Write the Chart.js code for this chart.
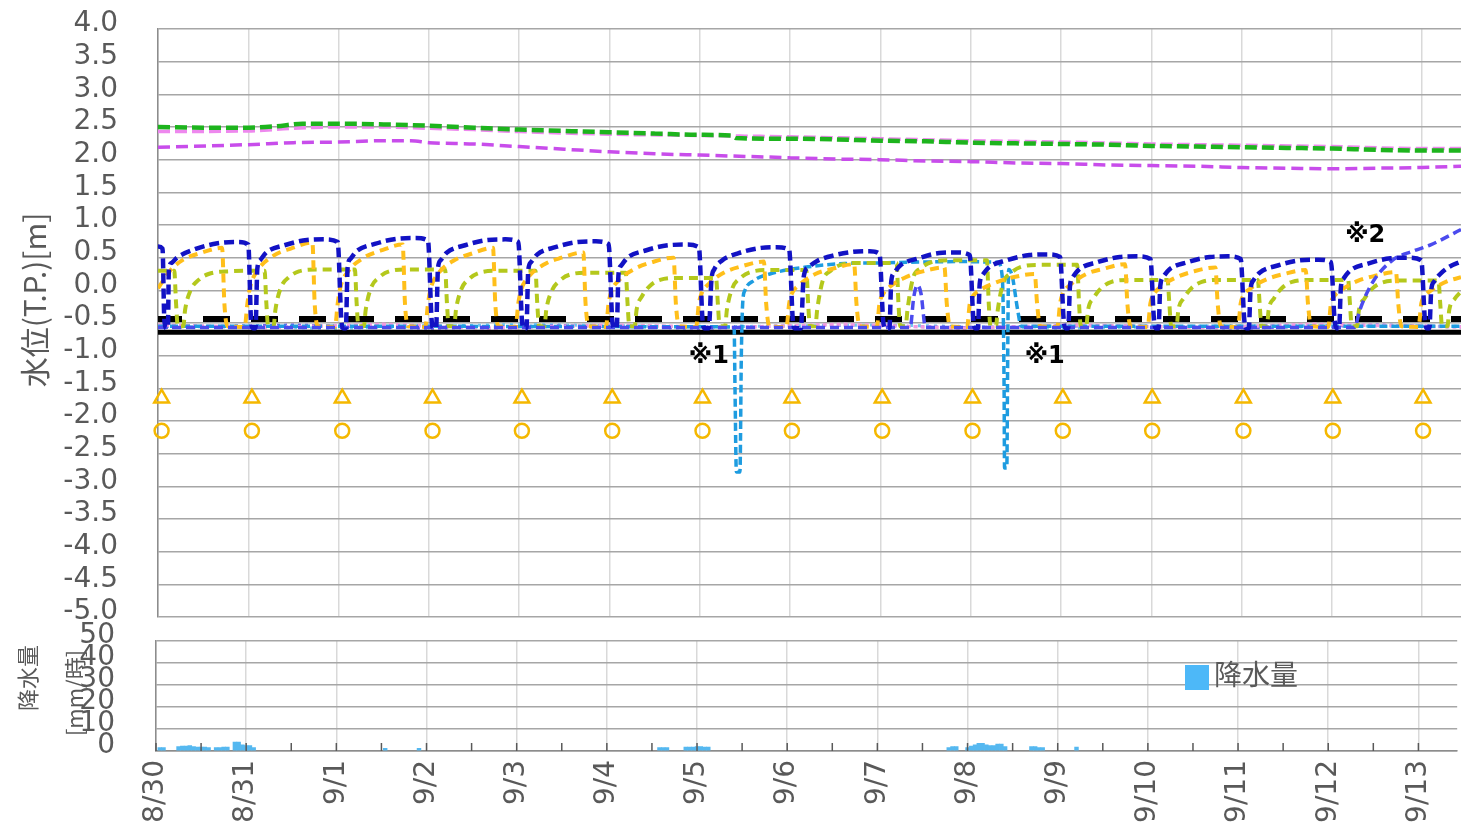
<!DOCTYPE html>
<html><head><meta charset="utf-8">
<script src="https://cdn.jsdelivr.net/npm/chart.js@4.4.1/dist/chart.umd.min.js"></script>
<style>
html,body{margin:0;padding:0;background:#fff;width:1461px;height:827px;overflow:hidden;}
#top{position:absolute;left:0;top:0;}
#bot{position:absolute;left:0;top:620px;}
</style></head><body>
<canvas id="top" width="1461" height="634"></canvas>
<canvas id="bot" width="1461" height="207"></canvas>
<script>
// ---- data (x in days from 8/30 00:00) ----
const DAY_LABELS = ['8/30','8/31','9/1','9/2','9/3','9/4','9/5','9/6','9/7','9/8','9/9','9/10','9/11','9/12','9/13'];
const X_MAX = 14.43;
const Y_TICK_MIN = -5, Y_TICK_MAX = 4, Y_STEP = 0.5;
const RAIN_MAX = 50, RAIN_STEP = 10;

const GREEN = [[0,2.5],[0.5,2.49],[1,2.49],[1.3,2.51],[1.6,2.55],[2,2.55],[2.5,2.54],[3,2.52],[3.5,2.49],[4,2.46],[4.5,2.44],[5,2.42],[5.5,2.4],[6,2.38],[6.35,2.37],[6.4,2.33],[7,2.32],[7.5,2.31],[8,2.29],[8.5,2.28],[9,2.26],[9.5,2.25],[10,2.24],[10.5,2.23],[11,2.21],[11.5,2.2],[12,2.19],[12.5,2.18],[13,2.17],[13.5,2.15],[14,2.14],[14.43,2.14]];
const PINK = [[0,2.43],[1,2.44],[1.5,2.48],[2,2.5],[2.5,2.5],[3,2.48],[3.5,2.46],[4,2.43],[5,2.39],[6,2.37],[6.5,2.36],[7,2.35],[8,2.32],[9,2.29],[10,2.27],[11,2.24],[12,2.22],[13,2.2],[14,2.17],[14.43,2.17]];
const PURPLE = [[0,2.19],[1,2.23],[1.5,2.26],[2,2.27],[2.5,2.29],[2.8,2.29],[3,2.26],[3.5,2.24],[4,2.2],[4.5,2.16],[5,2.12],[5.5,2.09],[6,2.07],[6.5,2.05],[7,2.03],[7.5,2.01],[8,2.0],[8.5,1.98],[9,1.97],[9.5,1.95],[10,1.94],[10.5,1.92],[11,1.91],[11.5,1.9],[12,1.88],[12.5,1.87],[13,1.86],[13.5,1.87],[14,1.88],[14.43,1.9]];

const BLUE = [
[0,0.67],[0.05,0.64],[0.07,-0.45],[0.09,-0.58],[0.11,-0.56],[0.12,0.3],[0.15,0.42],[0.21,0.5],[0.39,0.62],[0.66,0.72],[0.88,0.74],[1.0,0.7],
[1.03,-0.45],[1.05,-0.58],[1.08,-0.58],[1.1,0.33],[1.13,0.46],[1.2,0.58],[1.4,0.69],[1.65,0.77],[1.85,0.78],[1.99,0.74],
[2.03,-0.45],[2.05,-0.58],[2.08,-0.58],[2.1,0.35],[2.13,0.48],[2.2,0.6],[2.4,0.71],[2.65,0.79],[2.85,0.8],[2.99,0.76],
[3.03,-0.45],[3.05,-0.58],[3.08,-0.58],[3.1,0.33],[3.13,0.46],[3.2,0.58],[3.4,0.69],[3.65,0.77],[3.85,0.78],[3.99,0.74],
[4.03,-0.45],[4.05,-0.58],[4.08,-0.58],[4.1,0.3],[4.13,0.43],[4.2,0.55],[4.4,0.66],[4.65,0.74],[4.85,0.75],[4.99,0.71],
[5.03,-0.45],[5.05,-0.58],[5.08,-0.58],[5.1,0.25],[5.13,0.38],[5.2,0.5],[5.4,0.61],[5.65,0.69],[5.85,0.7],[5.99,0.66],
[6.03,-0.45],[6.05,-0.58],[6.1,-0.58],[6.13,0.18],[6.16,0.32],[6.24,0.45],[6.43,0.57],[6.68,0.65],[6.85,0.66],[6.99,0.62],
[7.03,-0.45],[7.05,-0.58],[7.12,-0.58],[7.15,0.2],[7.2,0.35],[7.3,0.45],[7.5,0.54],[7.7,0.59],[7.88,0.6],[7.99,0.56],
[8.03,-0.45],[8.05,-0.58],[8.1,-0.58],[8.12,0.13],[8.15,0.26],[8.22,0.38],[8.42,0.49],[8.65,0.57],[8.85,0.58],[8.99,0.54],
[9.03,-0.45],[9.05,-0.58],[9.08,-0.58],[9.1,0.1],[9.13,0.23],[9.2,0.35],[9.4,0.46],[9.65,0.54],[9.85,0.55],[9.99,0.51],
[10.03,-0.45],[10.05,-0.58],[10.08,-0.58],[10.1,0.07],[10.13,0.2],[10.2,0.32],[10.4,0.43],[10.65,0.51],[10.85,0.52],[10.99,0.48],
[11.03,-0.45],[11.05,-0.58],[11.08,-0.58],[11.1,0.07],[11.13,0.2],[11.2,0.32],[11.4,0.43],[11.65,0.51],[11.85,0.52],[11.99,0.48],
[12.03,-0.45],[12.05,-0.58],[12.08,-0.58],[12.1,0.02],[12.13,0.15],[12.2,0.27],[12.4,0.38],[12.65,0.46],[12.85,0.47],[12.99,0.43],
[13.03,-0.45],[13.05,-0.58],[13.08,-0.58],[13.1,0.05],[13.13,0.18],[13.2,0.3],[13.4,0.41],[13.65,0.49],[13.85,0.5],[13.99,0.46],
[14.03,-0.45],[14.05,-0.58],[14.08,-0.58],[14.1,0.0],[14.13,0.13],[14.2,0.25],[14.3,0.36],[14.43,0.44]
];

const ORANGE = [
[0,0.03],[0.14,0.31],[0.28,0.47],[0.47,0.57],[0.71,0.65],[0.735,-0.2],[0.77,-0.55],[0.96,-0.56],
[0.99,-0.2],[1.02,0.05],[1.1,0.3],[1.28,0.53],[1.47,0.64],[1.71,0.73],[1.735,-0.2],[1.77,-0.55],[1.96,-0.56],
[1.99,-0.2],[2.02,0.05],[2.1,0.28],[2.28,0.5],[2.47,0.61],[2.71,0.7],[2.735,-0.2],[2.77,-0.55],[2.96,-0.56],
[2.99,-0.2],[3.02,0.03],[3.1,0.25],[3.28,0.46],[3.47,0.56],[3.71,0.65],[3.735,-0.2],[3.77,-0.55],[3.96,-0.56],
[3.99,-0.2],[4.02,0.0],[4.1,0.2],[4.28,0.4],[4.47,0.5],[4.71,0.58],[4.735,-0.2],[4.77,-0.55],[4.96,-0.56],
[4.99,-0.2],[5.02,-0.02],[5.1,0.15],[5.28,0.33],[5.47,0.43],[5.71,0.5],[5.735,-0.2],[5.77,-0.55],[5.96,-0.56],
[5.99,-0.2],[6.02,-0.05],[6.1,0.1],[6.28,0.28],[6.47,0.37],[6.71,0.44],[6.735,-0.2],[6.77,-0.55],[6.96,-0.56],
[6.99,-0.2],[7.02,-0.05],[7.1,0.08],[7.28,0.25],[7.47,0.33],[7.71,0.4],[7.735,-0.2],[7.77,-0.55],[7.96,-0.56],
[7.99,-0.2],[8.02,-0.08],[8.1,0.05],[8.28,0.2],[8.47,0.29],[8.71,0.35],[8.735,-0.2],[8.77,-0.55],[8.96,-0.56],
[8.99,-0.2],[9.02,-0.1],[9.1,0.0],[9.28,0.12],[9.47,0.2],[9.71,0.25],[9.735,-0.2],[9.77,-0.55],[9.96,-0.56],
[9.99,-0.2],[10.02,-0.05],[10.1,0.08],[10.28,0.25],[10.47,0.33],[10.71,0.4],[10.735,-0.2],[10.77,-0.55],[10.96,-0.56],
[10.99,-0.2],[11.02,-0.08],[11.1,0.05],[11.28,0.2],[11.47,0.29],[11.71,0.35],[11.735,-0.2],[11.77,-0.55],[11.96,-0.56],
[11.99,-0.2],[12.02,-0.08],[12.1,0.03],[12.28,0.17],[12.47,0.25],[12.71,0.31],[12.735,-0.2],[12.77,-0.55],[12.96,-0.56],
[12.99,-0.2],[13.02,-0.1],[13.1,0.0],[13.28,0.14],[13.47,0.22],[13.71,0.28],[13.735,-0.2],[13.77,-0.55],[13.96,-0.56],
[13.99,-0.2],[14.02,-0.1],[14.1,0.0],[14.28,0.14],[14.43,0.2]
];

const YGREEN = [
[0,0.3],[0.18,0.3],[0.2,-0.2],[0.22,-0.55],[0.28,-0.55],[0.3,-0.3],[0.36,0.0],[0.45,0.16],[0.56,0.25],[0.77,0.29],
[1.18,0.3],[1.2,-0.2],[1.22,-0.55],[1.28,-0.55],[1.3,-0.3],[1.36,0.04],[1.45,0.2],[1.56,0.29],[1.77,0.32],
[2.18,0.32],[2.2,-0.2],[2.22,-0.55],[2.28,-0.55],[2.3,-0.3],[2.36,0.04],[2.45,0.2],[2.56,0.29],[2.77,0.32],
[3.18,0.32],[3.2,-0.2],[3.22,-0.55],[3.28,-0.55],[3.3,-0.3],[3.36,0.02],[3.45,0.18],[3.56,0.27],[3.77,0.3],
[4.18,0.3],[4.2,-0.2],[4.22,-0.55],[4.28,-0.55],[4.3,-0.3],[4.36,-0.01],[4.45,0.15],[4.56,0.24],[4.77,0.27],
[5.18,0.27],[5.2,-0.2],[5.22,-0.55],[5.28,-0.55],[5.3,-0.3],[5.36,-0.09],[5.45,0.07],[5.56,0.16],[5.77,0.19],
[6.18,0.19],[6.2,-0.2],[6.22,-0.55],[6.28,-0.55],[6.3,-0.3],[6.36,0.03],[6.45,0.19],[6.56,0.28],[6.77,0.31],
[7.18,0.31],[7.2,-0.2],[7.22,-0.55],[7.28,-0.55],[7.3,-0.3],[7.36,0.14],[7.45,0.3],[7.56,0.39],[7.77,0.42],
[8.18,0.42],[8.2,-0.2],[8.22,-0.55],[8.28,-0.55],[8.3,-0.3],[8.36,0.18],[8.45,0.34],[8.56,0.43],[8.77,0.46],
[9.18,0.46],[9.2,-0.2],[9.22,-0.55],[9.28,-0.55],[9.3,-0.3],[9.36,0.11],[9.45,0.27],[9.56,0.36],[9.77,0.39],
[10.18,0.39],[10.2,-0.2],[10.22,-0.55],[10.28,-0.55],[10.3,-0.3],[10.36,-0.12],[10.45,0.04],[10.56,0.13],[10.77,0.16],
[11.18,0.16],[11.2,-0.2],[11.22,-0.55],[11.28,-0.55],[11.3,-0.3],[11.36,-0.12],[11.45,0.04],[11.56,0.13],[11.77,0.16],
[12.18,0.16],[12.2,-0.2],[12.22,-0.55],[12.28,-0.55],[12.3,-0.3],[12.36,-0.12],[12.45,0.04],[12.56,0.13],[12.77,0.16],
[13.18,0.16],[13.2,-0.2],[13.22,-0.55],[13.28,-0.55],[13.3,-0.3],[13.36,-0.13],[13.45,0.03],[13.56,0.12],[13.77,0.15],
[14.18,0.15],[14.2,-0.2],[14.22,-0.55],[14.28,-0.55],[14.3,-0.3],[14.36,-0.13],[14.43,-0.02]
];

const LIGHTBLUE = [[0,-0.55],[6.38,-0.56],[6.39,-1.5],[6.405,-2.78],[6.445,-2.78],[6.46,-1.0],[6.475,-0.2],[6.5,0.0],[6.6,0.15],[6.8,0.26],[7.2,0.36],[7.6,0.41],[8.0,0.42],[8.9,0.44],[9.3,0.43],[9.35,0.2],[9.37,-1.5],[9.375,-2.72],[9.4,-2.72],[9.41,-1.0],[9.42,0.32],[9.46,0.22],[9.52,-0.3],[9.56,-0.55],[14.43,-0.55]];
const PERIWINKLE = [[0,-0.57],[8.33,-0.57],[8.37,-0.1],[8.41,0.08],[8.45,-0.05],[8.5,-0.57],[13.25,-0.57],[13.31,-0.3],[13.45,0.12],[13.68,0.47],[13.9,0.6],[14.1,0.7],[14.43,0.93]];

const NOISE_PINK = [[0,-0.53],[1.2,-0.57],[2.5,-0.52],[3.7,-0.58],[5,-0.53],[6.3,-0.57],[7.6,-0.52],[8.9,-0.58],[10.2,-0.53],[11.5,-0.57],[12.8,-0.52],[14.43,-0.56]];
const NOISE_VIOLET = [[0,-0.57],[1.5,-0.53],[3,-0.58],[4.5,-0.54],[6,-0.58],[7.5,-0.53],[9,-0.57],[10.5,-0.54],[12,-0.58],[13.5,-0.53],[14.43,-0.56]];
const NOISE_CYAN = [[0,-0.55],[2,-0.58],[4,-0.52],[6,-0.56],[8,-0.53],[10,-0.58],[12,-0.54],[14.43,-0.55]];

const BLACK_DASH_LEVEL = -0.44;
const BLACK_SOLID_LEVEL = -0.64;
const MARK_DAYS = [0.04,1.04,2.04,3.04,4.03,5.03,6.03,7.02,8.02,9.02,10.02,11.01,12.02,13.01,14.01];
const TRIANGLE_LEVEL = -1.65;
const CIRCLE_LEVEL = -2.15;

const NOTE_TEXT = ['※1','※1','※2'];
const NOTE_X = [6.1, 9.82, 13.37];
const NOTE_Y = [-1.02, -1.02, 0.83];

// hourly rainfall (hour from 8/30 00:00, mm/h)
const RAIN_HOURS = [1,2,6,7,8,9,10,11,12,13,14,16,17,18,19,21,22,23,24,25,26,61,70,134,135,136,141,142,143,144,145,146,147,211,212,213,216,217,218,219,220,221,222,223,224,225,226,233,234,235,236,245];
const RAIN_MM    = [1.5,1.5,2,2.2,2.2,2.5,2,1.8,1.8,1.8,1.5,1.5,1.5,1.8,1.8,4,4,2.8,2.5,2.5,1.5,1.2,1.2,1.5,1.5,1.5,1.8,1.8,1.8,2,2,1.8,1.8,1.5,2,2,1.5,2.2,2.8,3.5,3.5,2.8,2.5,2.5,3.2,3.2,2.0,2,2,1.5,1.5,1.8];

// ---- helpers ----
const TXT = '#595959';
Chart.defaults.font.family = '"DejaVu Sans", "Noto Sans CJK JP", sans-serif';
Chart.defaults.color = TXT;
const pts = a => a.map(p => ({x: p[0], y: p[1]}));
function line(label, arr, color, width, dash, mono) {
  return {label, data: pts(arr), borderColor: color, borderWidth: width, borderDash: dash,
    pointRadius: 0, fill: false, cubicInterpolationMode: mono ? 'monotone' : 'default', tension: 0};
}
const flat = v => [[0, v], [X_MAX, v]];

const notePlugin = {
  id: 'notes',
  afterDatasetsDraw(chart) {
    const {ctx, scales: {x, y}} = chart;
    ctx.save();
    ctx.fillStyle = '#000';
    ctx.font = 'bold 24px "DejaVu Sans", "Noto Sans CJK JP", sans-serif';
    ctx.textAlign = 'center'; ctx.textBaseline = 'middle';
    NOTE_TEXT.forEach((t, i) => ctx.fillText(t, x.getPixelForValue(NOTE_X[i]), y.getPixelForValue(NOTE_Y[i])));
    ctx.restore();
  }
};
function rotText(ctx, text, cx, cy, font) {
  ctx.save();
  ctx.translate(cx, cy); ctx.rotate(-Math.PI / 2);
  ctx.font = font; ctx.fillStyle = TXT; ctx.textAlign = 'center'; ctx.textBaseline = 'middle';
  ctx.fillText(text, 0, 0);
  ctx.restore();
}
const topTitle = {
  id: 'topTitle',
  afterDraw(chart) { rotText(chart.ctx, '水位(T.P.)[m]', 35, 300, '30px "Noto Sans CJK JP", sans-serif'); }
};
const botDecor = {
  id: 'botDecor',
  afterDraw(chart) {
    const ctx = chart.ctx;
    rotText(ctx, '降水量', 28, 58, '22px "Noto Sans CJK JP", sans-serif');
    rotText(ctx, '[mm/時]', 75, 73, '22px "Noto Sans CJK JP", sans-serif');
    // inside tick marks every half day
    const xs = chart.scales.x, yb = chart.chartArea.bottom;
    ctx.save();
    ctx.strokeStyle = '#595959'; ctx.lineWidth = 1.5;
    for (let v = 0; v <= X_MAX; v += 0.5) {
      const px = xs.getPixelForValue(v);
      ctx.beginPath(); ctx.moveTo(px, yb); ctx.lineTo(px, yb - 8); ctx.stroke();
    }
    // legend
    ctx.fillStyle = '#4DB8F8';
    ctx.fillRect(1185, 45, 24, 25);
    ctx.fillStyle = TXT;
    ctx.font = '28px "Noto Sans CJK JP", sans-serif';
    ctx.textAlign = 'left'; ctx.textBaseline = 'middle';
    ctx.fillText(chart.data.datasets[0].label, 1214, 54);
    ctx.restore();
  }
};

// ---- top chart ----
const markers = (arr, level, style, r) => ({
  label: style, data: arr.map(d => ({x: d, y: level})), showLine: false, clip: false,
  pointStyle: style, pointRadius: r, pointBorderWidth: 2.5, pointBorderColor: '#F5B800',
  pointBackgroundColor: 'rgba(255,255,255,0)'
});

const yGrid = {color: '#a6a6a6', lineWidth: 1.5, drawTicks: true, tickLength: 40, tickColor: 'rgba(0,0,0,0)'};

new Chart(document.getElementById('top'), {
  type: 'line',
  data: {datasets: [
    line('blue', BLUE, '#1212C4', 4.5, [10, 5], true),
    line('periwinkle', PERIWINKLE, '#4B4BEE', 3.5, [9, 5], true),
    line('orange', ORANGE, '#FFBF1A', 4, [9, 6], true),
    line('ygreen', YGREEN, '#B4C81C', 4, [9, 6], true),
    line('lightblue', LIGHTBLUE, '#1E9CE0', 3.5, [8, 4], true),
    Object.assign(line('blackDash', flat(BLACK_DASH_LEVEL), '#000', 6, [27, 21], false), {borderDashOffset: 3}),
    line('blackSolid', flat(BLACK_SOLID_LEVEL), '#000', 5, [], false),
    line('noisePink', NOISE_PINK, '#F29BDF', 3.5, [4, 3], false),
    line('noiseViolet', NOISE_VIOLET, '#6A5CF0', 3, [3, 4], false),
    line('noiseCyan', NOISE_CYAN, '#6EC6F0', 3, [3, 5], false),
    line('green', GREEN, '#1DB41D', 4.5, [12, 5], true),
    line('pink', PINK, '#EE88EE', 3.5, [12, 5], true),
    line('purple', PURPLE, '#C84DEB', 3.5, [12, 6], true),
    markers(MARK_DAYS, TRIANGLE_LEVEL, 'triangle', 8.5),
    markers(MARK_DAYS, CIRCLE_LEVEL, 'circle', 7)
  ]},
  options: {
    responsive: false, animation: false, devicePixelRatio: 1,
    layout: {autoPadding: false, padding: {top: 29, left: 0, right: 0, bottom: 0}},
    plugins: {legend: {display: false}, tooltip: {enabled: false}},
    scales: {
      x: {type: 'linear', min: 0, max: X_MAX,
        ticks: {display: false, stepSize: 1, includeBounds: false},
        grid: {color: '#d9d9d9', lineWidth: 1.5, drawTicks: false},
        border: {display: false},
        afterFit(s) { s.height = 17; }},
      y: {min: Y_TICK_MIN, max: Y_TICK_MAX,
        ticks: {stepSize: Y_STEP, autoSkip: false, padding: 0, labelOffset: -5, font: {size: 28}, color: TXT,
          callback: v => Number(v).toFixed(1)},
        grid: yGrid,
        border: {color: '#8c8c8c', width: 1.5},
        afterFit(s) { s.width = 158; }}
    }
  },
  plugins: [notePlugin, topTitle]
});

// ---- bottom chart ----
new Chart(document.getElementById('bot'), {
  type: 'bar',
  data: {datasets: [{label: '降水量', data: RAIN_HOURS.map((h, i) => ({x: h / 24, y: RAIN_MM[i]})),
    backgroundColor: '#55B8F0', barThickness: 3.8, grouped: false}]},
  options: {
    responsive: false, animation: false, devicePixelRatio: 1,
    layout: {autoPadding: false, padding: {top: 21, left: 0, right: -4, bottom: 0}},
    plugins: {legend: {display: false}, tooltip: {enabled: false}},
    scales: {
      x: {type: 'linear', min: 0, max: X_MAX, offset: false,
        ticks: {stepSize: 1, includeBounds: false, autoSkip: false, maxRotation: 90, minRotation: 90, padding: 9,
          font: {size: 28}, color: TXT, callback: v => DAY_LABELS[v] ?? ''},
        grid: {color: '#d9d9d9', lineWidth: 1.5, drawTicks: false, offset: false},
        border: {color: '#8c8c8c', width: 1.5},
        afterFit(s) { s.height = 76; }},
      y: {min: 0, max: RAIN_MAX,
        ticks: {stepSize: RAIN_STEP, autoSkip: false, padding: 0, labelOffset: -5, font: {size: 28}, color: TXT},
        grid: Object.assign({}, yGrid, {tickLength: 41}),
        border: {color: '#8c8c8c', width: 1.5},
        afterFit(s) { s.width = 156; }}
    }
  },
  plugins: [botDecor]
});
</script>
</body></html>
